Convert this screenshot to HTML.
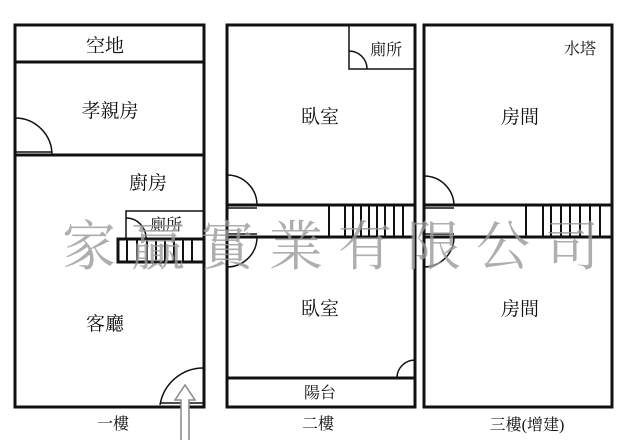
<!DOCTYPE html>
<html><head><meta charset="utf-8"><style>
html,body{margin:0;padding:0;background:#fff;}
svg{display:block;}
text{font-family:"Liberation Serif","Noto Serif CJK SC","Noto Sans CJK TC",serif;fill:#111;}
</style></head><body>
<svg width="640" height="445" viewBox="0 0 640 445" xmlns="http://www.w3.org/2000/svg">
<g fill="none" stroke="#111" stroke-width="3">
<rect x="15" y="25" width="189" height="382"/>
<line x1="15" y1="62" x2="204" y2="62"/>
<line x1="15" y1="155" x2="204" y2="155"/>
<rect x="118" y="239" width="86" height="23"/>
</g>
<g fill="none" stroke="#111" stroke-width="1.5">
<path d="M15 118 A37 37 0 0 1 52 155"/>
<line x1="15" y1="152" x2="52" y2="152"/>
<polyline points="126,239 126,211 204,211"/>
<path d="M126 218 A20 20 0 0 1 146 238"/>
<path d="M160 405 A44 44 0 0 1 204 368"/>
<line x1="160" y1="403" x2="204" y2="403"/>
</g>
<g stroke="#111" stroke-width="2">
<line x1="127" y1="239" x2="127" y2="262"/><line x1="137" y1="239" x2="137" y2="262"/>
<line x1="147" y1="239" x2="147" y2="262"/><line x1="156" y1="239" x2="156" y2="262"/>
<line x1="165" y1="239" x2="165" y2="262"/><line x1="174" y1="239" x2="174" y2="262"/>
<line x1="183" y1="239" x2="183" y2="262"/><line x1="192" y1="239" x2="192" y2="262"/>
</g>
<path d="M181 440 L181 400 L175 400 L185 385 L195 400 L189 400 L189 440" fill="#fff" stroke="#888" stroke-width="1.5"/>
<g fill="none" stroke="#111" stroke-width="3">
<rect x="227" y="25" width="188" height="382"/>
<line x1="227" y1="205" x2="415" y2="205"/>
<line x1="227" y1="237" x2="415" y2="237"/>
<line x1="227" y1="378" x2="415" y2="378"/>
</g>
<g fill="none" stroke="#111" stroke-width="1.5">
<polyline points="349,25 349,69 415,69"/>
<path d="M349 51 A18 18 0 0 1 367 69"/>
<path d="M227 175 A30 30 0 0 1 257 205"/>
<path d="M227 267 A30 30 0 0 0 257 237"/>
<line x1="227" y1="208" x2="257" y2="208"/><line x1="227" y1="234" x2="257" y2="234"/>
<path d="M397 378 A18 18 0 0 1 415 360"/>
</g>
<g stroke="#111" stroke-width="2">
<line x1="329" y1="205" x2="329" y2="237"/><line x1="345" y1="205" x2="345" y2="237"/>
<line x1="353" y1="205" x2="353" y2="237"/><line x1="361" y1="205" x2="361" y2="237"/>
<line x1="369" y1="205" x2="369" y2="237"/><line x1="377" y1="205" x2="377" y2="237"/>
<line x1="385" y1="205" x2="385" y2="237"/><line x1="394" y1="205" x2="394" y2="237"/>
<line x1="403" y1="205" x2="403" y2="237"/>
</g>
<g fill="none" stroke="#111" stroke-width="3">
<rect x="424" y="25" width="188" height="382"/>
<line x1="424" y1="205" x2="612" y2="205"/>
<line x1="424" y1="237" x2="612" y2="237"/>
</g>
<g fill="none" stroke="#111" stroke-width="1.5">
<path d="M424 176 A30 30 0 0 1 454 206"/>
<path d="M424 267 A30 30 0 0 0 454 237"/>
<line x1="424" y1="208" x2="454" y2="208"/><line x1="424" y1="234" x2="454" y2="234"/>
</g>
<g stroke="#111" stroke-width="2">
<line x1="526" y1="205" x2="526" y2="237"/><line x1="543" y1="205" x2="543" y2="237"/>
<line x1="551" y1="205" x2="551" y2="237"/><line x1="561" y1="205" x2="561" y2="237"/>
<line x1="570" y1="205" x2="570" y2="237"/><line x1="580" y1="205" x2="580" y2="237"/>
<line x1="590" y1="205" x2="590" y2="237"/><line x1="600" y1="205" x2="600" y2="237"/>
</g>
<g font-size="19" text-anchor="middle">
<text x="105" y="52">空地</text>
<text x="110" y="117">孝親房</text>
<text x="148" y="189">廚房</text>
<text x="105" y="330">客廳</text>
<text x="320" y="123">臥室</text>
<text x="320" y="315">臥室</text>
<text x="520" y="123">房間</text>
<text x="520" y="315">房間</text>
</g>
<g font-size="16" text-anchor="middle">
<text x="166" y="230">廁所</text>
<text x="386" y="55">廁所</text>
<text x="580" y="54">水塔</text>
<text x="320" y="398">陽台</text>
<text x="113" y="429">一樓</text>
<text x="318" y="429">二樓</text>
<text x="527" y="430">三樓(增建)</text>
</g>
<text x="338" y="265" font-size="54" text-anchor="middle" letter-spacing="15" style="fill:#9a9a9a;opacity:0.8">家贏實業有限公司</text>
</svg>
</body></html>
